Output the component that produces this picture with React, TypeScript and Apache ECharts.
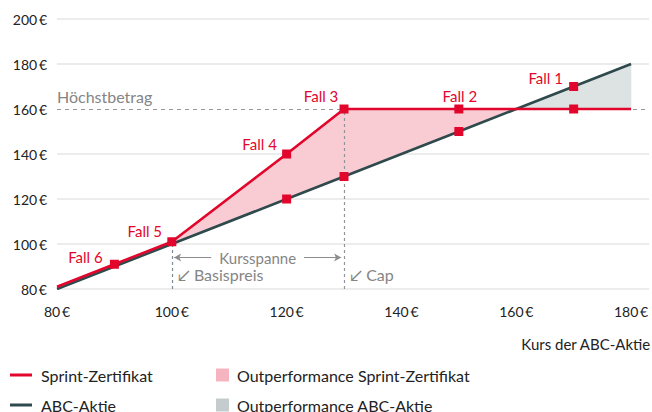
import React, { useEffect, useRef } from 'react';
import * as echarts from 'echarts';

// ---- data ----
const kurs = [80, 90, 100, 120, 130, 150, 160, 170, 180];
const sprint = [81, 91, 101, 140, 160, 160, 160, 160, 160];
const aktie = [80, 90, 100, 120, 130, 150, 160, 170, 180];
const sprintMarked = [false, true, true, true, true, true, false, true, false];
const aktieMarked = [false, false, false, true, true, true, false, true, false];
const sprintFall = ['', 'Fall 6', 'Fall 5', 'Fall 4', 'Fall 3', 'Fall 2', '', '', ''];
const aktieFall = ['', '', '', '', '', '', '', 'Fall 1', ''];
const basispreis = 100;
const cap = 130;
const hoechstbetrag = 160;
const kursspanneNiveau = 94;
const hinweisNiveau = 86.5;
const yMin = 80;
const yMax = 200;
const xMin = 80;
const xLastTick = 180;

// ---- styles ----
const RED = '#e2062c';
const DARK = '#2f4a4c';
const PINK_AREA = '#f9cbd3';
const GRAY_AREA = '#dde3e3';
const PINK_LEG = '#f6b4c0';
const GRAY_LEG = '#c4cccd';
const TXT_GRAY = '#858585';
const FONT = 'Lato';
const labelOffsets: Record<string, number[]> = {
  'Fall 1': [-28, 8],
  'Fall 2': [1, 3.5],
  'Fall 3': [-23, 3.5],
  'Fall 4': [-27, 6.5],
  'Fall 5': [-27, 6.5],
  'Fall 6': [-29, 9.5],
};

const euro = (v: number) => `${v}\u2009€`;

export default function App() {
  const ref = useRef<HTMLDivElement>(null);
  useEffect(() => {
    if (!ref.current) return;
    const chart = echarts.init(ref.current, undefined, { renderer: 'svg' });

    const idx = kurs.map((_, i) => i);
    const pinkIdx = idx.filter((i) => kurs[i] >= basispreis && sprint[i] >= aktie[i]);
    const grayIdx = idx.filter((i) => kurs[i] >= hoechstbetrag && aktie[i] >= sprint[i]);

    const mkItems = (vals: number[], marked: boolean[], falls: string[]) =>
      kurs.map((x, i) => {
        const item: any = { value: [x, vals[i]], symbol: marked[i] ? 'rect' : 'none' };
        if (marked[i]) item.itemStyle = { color: RED };
        if (falls[i]) {
          item.label = {
            show: true,
            formatter: falls[i],
            position: 'top',
            offset: labelOffsets[falls[i]],
            color: RED,
            fontSize: 15,
            fontFamily: FONT,
          };
        }
        return item;
      });

    const areaSeries = (name: string, ids: number[], lo: number[], hi: number[], fill: string, legColor: string) => ({
      type: 'custom',
      name,
      z: 1,
      silent: true,
      itemStyle: { color: legColor },
      encode: { x: 0, y: [1, 2] },
      data: ids.map((i) => [kurs[i], lo[i], hi[i]]),
      renderItem: (params: any, api: any) => {
        if (params.dataIndex !== 0) return { type: 'group', children: [] };
        const top = ids.map((i) => api.coord([kurs[i], hi[i]]));
        const bottom = ids.map((i) => api.coord([kurs[i], lo[i]])).reverse();
        return { type: 'polygon', shape: { points: [...top, ...bottom] }, style: { fill, stroke: fill, lineWidth: 0.5 } };
      },
    });

    const splitColors: string[] = [];
    for (let v = yMin; v <= yMax; v += 20) splitColors.push(v === hoechstbetrag ? 'rgba(0,0,0,0)' : '#e6e6e6');

    const vDash = (x: number, yTop: number, color: string) =>
      [{ coord: [x, yMin] }, { coord: [x, yTop] }].map((p) => ({
        ...p,
        lineStyle: { color, type: [3, 3], width: 1.2 },
        label: { show: false },
      }));

    chart.setOption({
      animation: false,
      textStyle: { fontFamily: FONT },
      grid: { left: 57, right: 0, top: 19, bottom: 123, containLabel: false },
      title: {
        text: 'Kurs der ABC-Aktie',
        right: 1,
        top: 336,
        padding: 0,
        textStyle: { fontSize: 15, fontWeight: 'normal', color: '#222', fontFamily: FONT },
      },
      legend: [
        {
          left: 10,
          top: 366,
          height: 80,
          orient: 'vertical',
          itemWidth: 22,
          itemHeight: 3,
          itemGap: 12,
          selectedMode: false,
          padding: 0,
          textStyle: { fontSize: 16, color: '#222', lineHeight: 18, padding: [0, 0, 0, 4], fontFamily: FONT },
          data: [
            { name: 'Sprint-Zertifikat', icon: 'rect', itemStyle: { color: RED } },
            { name: 'ABC-Aktie', icon: 'rect', itemStyle: { color: DARK } },
          ],
        },
        {
          left: 216,
          top: 366,
          height: 80,
          orient: 'vertical',
          itemWidth: 13,
          itemHeight: 13,
          itemGap: 12,
          selectedMode: false,
          padding: 0,
          textStyle: { fontSize: 16, color: '#222', lineHeight: 18, padding: [0, 0, 0, 3], fontFamily: FONT },
          data: [
            { name: 'Outperformance Sprint-Zertifikat', icon: 'rect', itemStyle: { color: PINK_LEG } },
            { name: 'Outperformance ABC-Aktie', icon: 'rect', itemStyle: { color: GRAY_LEG } },
          ],
        },
      ],
      xAxis: {
        type: 'value',
        min: xMin,
        max: 183.125,
        interval: 20,
        axisLine: { show: false },
        axisTick: { show: false },
        splitLine: { show: false },
        axisLabel: {
          margin: 15,
          fontSize: 14,
          color: '#222',
          fontFamily: FONT,
          formatter: (v: number) => (v % 20 === 0 && v <= xLastTick ? euro(v) : ''),
        },
      },
      yAxis: {
        type: 'value',
        min: yMin,
        max: yMax,
        interval: 20,
        axisLine: { show: false },
        axisTick: { show: false },
        splitLine: { show: true, lineStyle: { color: splitColors, width: 1.5 } },
        axisLabel: { margin: 10, fontSize: 14, color: '#222', fontFamily: FONT, formatter: euro },
      },
      series: [
        areaSeries('Outperformance Sprint-Zertifikat', pinkIdx, aktie, sprint, PINK_AREA, PINK_LEG),
        areaSeries('Outperformance ABC-Aktie', grayIdx, sprint, aktie, GRAY_AREA, GRAY_LEG),
        {
          type: 'line',
          name: 'guides',
          z: 2,
          silent: true,
          data: [],
          markLine: {
            z: 2,
            silent: true,
            symbol: ['none', 'none'],
            animation: false,
            data: [
              {
                yAxis: hoechstbetrag,
                lineStyle: { color: '#9a9a9a', type: [4, 4], width: 1.2 },
                label: {
                  show: true,
                  position: 'insideStartTop',
                  formatter: 'Höchstbetrag',
                  color: TXT_GRAY,
                  fontSize: 16,
                  fontFamily: FONT,
                  distance: [0, 5],
                },
              },
              vDash(basispreis, sprint[kurs.indexOf(basispreis)], '#7f8c91'),
              vDash(cap, sprint[kurs.indexOf(cap)], '#8f9599'),
              [
                {
                  coord: [basispreis + 0.4, kursspanneNiveau],
                  symbol: 'arrow',
                  symbolSize: [6, 7],
                  lineStyle: { color: '#8c8c8c', type: 'solid', width: 1.2 },
                  label: {
                    show: true,
                    position: 'middle',
                    verticalAlign: 'middle',
                    distance: 0,
                    formatter: 'Kursspanne',
                    color: TXT_GRAY,
                    fontSize: 15,
                    fontFamily: FONT,
                    backgroundColor: '#ffffff',
                    padding: [0, 8],
                  },
                },
                { coord: [cap - 0.5, kursspanneNiveau], symbol: 'arrow', symbolSize: [6, 7] },
              ],
            ],
          },
          markPoint: {
            z: 2,
            silent: true,
            symbol: 'circle',
            symbolSize: 0,
            animation: false,
            label: { show: true, position: 'right', distance: 6, color: TXT_GRAY, fontSize: 16, fontFamily: FONT },
            data: [
              { coord: [basispreis, hinweisNiveau], label: { formatter: '↙ Basispreis' } },
              { coord: [cap, hinweisNiveau], label: { formatter: '↙ Cap' } },
            ],
          },
        },
        {
          type: 'line',
          name: 'ABC-Aktie',
          z: 3,
          showSymbol: true,
          symbolSize: 9,
          color: DARK,
          lineStyle: { color: DARK, width: 2.6 },
          data: mkItems(aktie, aktieMarked, aktieFall),
        },
        {
          type: 'line',
          name: 'Sprint-Zertifikat',
          z: 4,
          showSymbol: true,
          symbolSize: 9,
          color: RED,
          lineStyle: { color: RED, width: 2.6 },
          data: mkItems(sprint, sprintMarked, sprintFall),
        },
      ],
    });
    return () => chart.dispose();
  }, []);

  return (
    <div
      ref={ref}
      style={{ position: 'fixed', left: 0, top: 0, width: 652, height: 412, background: '#fff' }}
    />
  );
}
